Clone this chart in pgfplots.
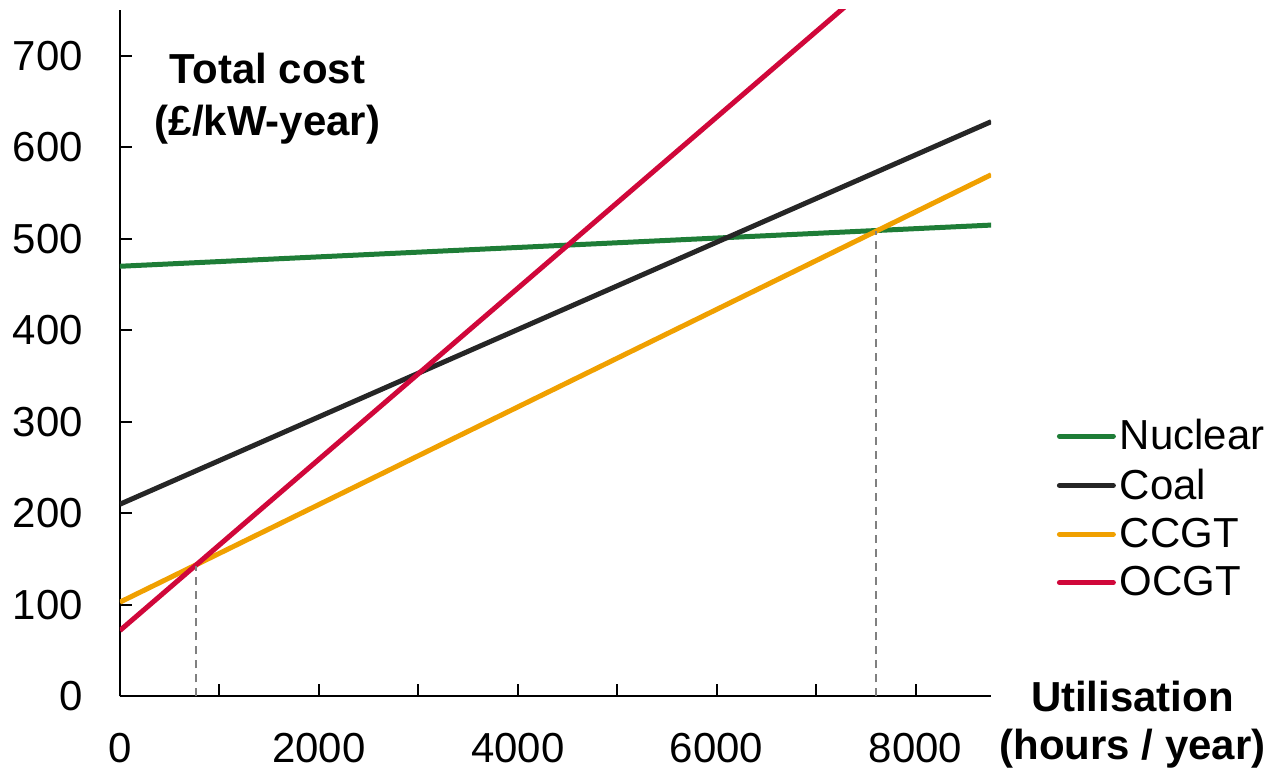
\documentclass[border=0pt]{standalone}
\usepackage{pgfplots}
\pgfplotsset{compat=1.18}
\usepackage{fontspec}
\setmainfont{Liberation Sans}
\definecolor{cNuc}{RGB}{30,125,55}
\definecolor{cCoal}{RGB}{38,38,38}
\definecolor{cCCGT}{RGB}{240,160,0}
\definecolor{cOCGT}{RGB}{208,7,58}
\begin{document}
\begin{tikzpicture}
\begin{axis}[
  scale only axis, width=436pt, height=343.5pt,
  xmin=0, xmax=8760, ymin=0, ymax=750,
  axis x line*=bottom, axis y line*=left,
  axis line style={-, line width=1pt, black},
  xtick={0,2000,4000,6000,8000},
  minor xtick={1000,3000,5000,7000},
  ytick={0,100,...,700},
  tick align=inside,
  major tick length=6pt, minor tick length=6pt,
  tick style={black, line width=1pt},
  every tick label/.append style={font=\fontsize{21}{25}\selectfont},
  /pgf/number format/assume math mode=true,
  scaled x ticks=false,
  xticklabel style={/pgf/number format/1000 sep={}, yshift=-15pt},
  yticklabel style={xshift=-15pt},
  clip mode=individual,
  legend style={at={(axis description cs:1.075,0.41)}, anchor=north west, draw=none, fill=none,
    font=\fontsize{21}{25}\selectfont, row sep=4pt, inner sep=0pt,
    /tikz/every even column/.append style={column sep=0pt}},
  legend cell align=left,
  legend image code/.code={\draw[#1, line width=2.5pt, line cap=round] (0pt,0pt) -- (27pt,0pt);},
]
\addplot[cNuc, line width=2.5pt] coordinates {(0,470) (8760,515)};
\addlegendentry{Nuclear}
\addplot[cCoal, line width=2.5pt] coordinates {(0,210) (8760,628)};
\addlegendentry{Coal}
\addplot[cCCGT, line width=2.5pt] coordinates {(0,103) (8760,570)};
\addlegendentry{CCGT}
\addplot[cOCGT, line width=2.5pt] coordinates {(0,72) (8760,891)};
\addlegendentry{OCGT}
\addplot[gray, line width=1pt, dash pattern=on 4pt off 3pt, forget plot] coordinates {(762,0) (762,143)};
\addplot[gray, line width=1pt, dash pattern=on 4pt off 3pt, forget plot] coordinates {(7600,0) (7600,508)};
\node[align=center, font=\fontsize{21}{26}\selectfont\bfseries] at (axis cs:1484,653) {Total cost\\(£/kW-year)};
\node[align=center, font=\fontsize{21}{24}\selectfont\bfseries] at (axis cs:10180,-31) {Utilisation\\(hours / year)};
\end{axis}
\path (current axis.south west) ++(-60pt,-35.5pt) rectangle ++(636pt,384pt);
\end{tikzpicture}
\end{document}
